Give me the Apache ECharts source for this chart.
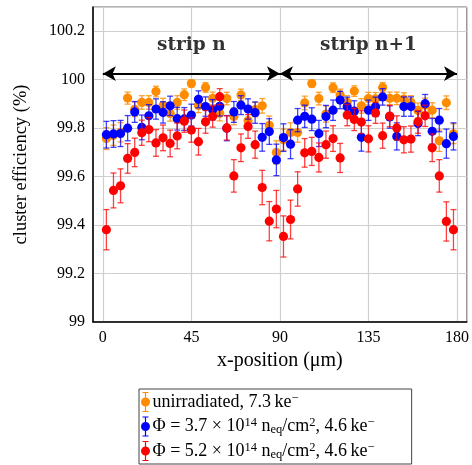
<!DOCTYPE html>
<html><head><meta charset="utf-8">
<script src="https://cdn.jsdelivr.net/npm/echarts@6/dist/echarts.min.js"></script>
<style>html,body{margin:0;padding:0;background:#fff}#c{width:472px;height:465px}</style>
</head><body><div id="c"></div>
<script>
// x-position bin centres (µm)
const xPos = [1.8,5.4,9,12.6,16.2,19.8,23.4,27,30.6,34.2,37.8,41.4,45,48.6,52.2,55.8,59.4,63,66.6,70.2,
  73.8,77.4,81,84.6,88.2,91.8,95.4,99,102.6,106.2,109.8,113.4,117,120.6,124.2,127.8,131.4,135,138.6,142.2,
  145.8,149.4,153,156.6,160.2,163.8,167.4,171,174.6,178.2];

// unirradiated, 7.3 ke-
const unirr = [99.757,99.771,99.783,99.924,99.878,99.906,99.906,99.951,99.893,99.861,
  99.906,99.938,99.984,99.894,99.968,99.923,99.862,99.922,99.848,99.937,
  99.831,99.877,99.892,99.812,99.700,99.752,99.782,99.782,99.904,99.984,
  99.922,99.858,99.967,99.937,99.906,99.953,99.892,99.922,99.921,99.968,
  99.923,99.923,99.920,99.906,99.873,99.895,99.874,99.748,99.905,99.777];
const unirrErr = [0.045,0.042,0.04,0.025,0.03,0.028,0.028,0.022,0.03,0.032,
  0.028,0.024,0.015,0.03,0.02,0.026,0.032,0.026,0.034,0.024,
  0.036,0.03,0.03,0.038,0.048,0.044,0.04,0.04,0.028,0.015,
  0.026,0.033,0.02,0.024,0.028,0.022,0.03,0.026,0.026,0.02,
  0.026,0.026,0.026,0.028,0.031,0.029,0.031,0.044,0.028,0.041];

// Phi = 3.7e14
const phi37 = [99.773,99.776,99.778,99.800,99.867,99.803,99.851,99.879,99.865,99.892,
  99.839,99.838,99.854,99.919,99.889,99.876,99.890,99.800,99.867,99.895,
  99.879,99.864,99.762,99.786,99.669,99.761,99.734,99.833,99.849,99.837,
  99.778,99.848,99.874,99.916,99.888,99.870,99.762,99.874,99.888,99.929,
  99.846,99.766,99.889,99.889,99.819,99.901,99.787,99.833,99.736,99.766];
const phi37Err = [0.055,0.055,0.054,0.052,0.043,0.051,0.046,0.042,0.044,0.04,
  0.047,0.047,0.045,0.035,0.04,0.042,0.04,0.052,0.043,0.039,
  0.042,0.044,0.057,0.053,0.065,0.057,0.06,0.048,0.046,0.047,
  0.054,0.046,0.042,0.036,0.04,0.043,0.057,0.042,0.04,0.034,
  0.046,0.056,0.04,0.04,0.05,0.038,0.053,0.048,0.06,0.056];

// Phi = 5.2e14
const phi52 = [99.381,99.543,99.562,99.675,99.700,99.781,99.794,99.739,99.760,99.737,
  99.768,99.829,99.792,99.744,99.826,99.848,99.930,99.801,99.603,99.719,
  99.807,99.732,99.555,99.416,99.466,99.353,99.423,99.549,99.698,99.704,
  99.679,99.732,99.757,99.677,99.854,99.836,99.825,99.756,99.863,99.769,
  99.850,99.801,99.752,99.755,99.826,99.851,99.719,99.603,99.415,99.381];
const phi52Err = [0.083,0.072,0.07,0.061,0.059,0.052,0.05,0.055,0.053,0.055,
  0.053,0.046,0.05,0.055,0.047,0.044,0.033,0.05,0.067,0.057,
  0.049,0.056,0.071,0.081,0.077,0.085,0.08,0.071,0.059,0.058,
  0.06,0.056,0.053,0.06,0.044,0.046,0.047,0.054,0.043,0.052,
  0.044,0.05,0.054,0.054,0.047,0.044,0.057,0.067,0.081,0.083];

const xTicks = [0,45,90,135,180];
const stripLabels = ['strip n','strip n+1'];
const stripX = [45,135];
const stripY = 100.143;
const arrowSpans = [[0,90],[90,180]];
const arrowY = 100.025;

const seriesNames = ['unirradiated','phi37','phi52'];
const legendText = {
  unirradiated: '{t|unirradiated, 7.3\u2009ke}{sup|\u2212}',
  phi37: '{t|\u03A6 = 3.7 \u00D7 10}{sup|14}{t| n}{sub|eq}{t|/cm}{sup|2}{t|, 4.6\u2009ke}{sup|\u2212}',
  phi52: '{t|\u03A6 = 5.2 \u00D7 10}{sup|14}{t| n}{sub|eq}{t|/cm}{sup|2}{t|, 4.6\u2009ke}{sup|\u2212}'
};

const FONT = 'Liberation Serif';

function build(vals, errs) { return xPos.map((x, i) => [x, vals[i], errs[i]]); }

function errRender(dot, bar) {
  return function (params, api) {
    const x = api.value(0), y = api.value(1), e = api.value(2);
    const c = api.coord([x, y]);
    const hi = api.coord([x, y + e]);
    const lo = api.coord([x, y - e]);
    const cw = 3;
    const ls = { stroke: bar, lineWidth: 1.3 };
    return { type: 'group', children: [
      { type: 'line', shape: { x1: c[0], y1: hi[1], x2: c[0], y2: lo[1] }, style: ls },
      { type: 'line', shape: { x1: c[0] - cw, y1: hi[1], x2: c[0] + cw, y2: hi[1] }, style: ls },
      { type: 'line', shape: { x1: c[0] - cw, y1: lo[1], x2: c[0] + cw, y2: lo[1] }, style: ls },
      { type: 'circle', shape: { cx: c[0], cy: c[1], r: 4.6 }, style: { fill: dot } }
    ]};
  };
}

const icon = 'path://M2,0H8V1H5.6V5.6H4.4V1H2Z M4.4,14.4H5.6V19H8V20H2V19H4.4Z M0.5,10A4.5,4.5 0 1,0 9.5,10A4.5,4.5 0 1,0 0.5,10Z';

const colors = ['#ff8c00', '#0000ff', '#ff0000'];
const barColors = ['rgba(255,140,0,0.8)', 'rgba(0,0,255,0.75)', 'rgba(255,0,0,0.75)'];
const datas = [build(unirr, unirrErr), build(phi37, phi37Err), build(phi52, phi52Err)];

const chart = echarts.init(document.getElementById('c'), null, { renderer: 'canvas' });

const series = seriesNames.map((n, k) => ({
  name: n, type: 'custom', renderItem: errRender(colors[k], barColors[k]),
  data: datas[k], encode: { x: 0, y: 1 }, itemStyle: { color: colors[k] },
  z: 3 + k, clip: true, silent: true
}));

series.push({
  name: 'annot', type: 'scatter', symbolSize: 0, z: 10, silent: true,
  data: stripLabels.map((s, i) => ({ value: [stripX[i], stripY], name: s })),
  label: { show: true, position: 'inside', formatter: p => p.name,
    fontFamily: 'DejaVu Serif', fontWeight: 'bold', fontSize: 18.5, color: '#000' },
  markLine: {
    silent: true, symbol: ['arrow', 'arrow'], symbolSize: [11, 13],
    label: { show: false },
    lineStyle: { color: '#000', width: 2, type: 'solid' },
    emphasis: { disabled: true },
    data: arrowSpans.map(s => [{ coord: [s[0], arrowY] }, { coord: [s[1], arrowY] }])
  }
});

chart.setOption({
  animation: false,
  backgroundColor: '#fff',
  grid: { left: 93, right: 4, top: 7, bottom: 143, show: true, borderColor: '#666', borderWidth: 1 },
  xAxis: {
    type: 'value', min: -5, max: 185,
    name: 'x-position (\u03BCm)', nameLocation: 'middle', nameGap: 25,
    nameTextStyle: { fontFamily: FONT, fontSize: 20, color: '#000' },
    axisLine: { show: true, onZero: false, lineStyle: { color: '#000', width: 1.5 } },
    axisTick: { show: false, customValues: xTicks },
    axisLabel: { customValues: xTicks, fontFamily: FONT, fontSize: 16, color: '#000', margin: 8 },
    splitLine: { show: true, lineStyle: { color: '#cfcfcf', width: 1.2 } }
  },
  yAxis: {
    type: 'value', min: 99, max: 100.3, interval: 0.2,
    name: 'cluster efficiency (%)', nameLocation: 'middle', nameGap: 62,
    nameTextStyle: { fontFamily: FONT, fontSize: 18.5, color: '#000' },
    axisLine: { show: true, onZero: false, lineStyle: { color: '#000', width: 1.5 } },
    axisTick: { show: false },
    axisLabel: { fontFamily: FONT, fontSize: 16, color: '#000', margin: 8, showMaxLabel: false,
      formatter: v => String(Math.round(v * 10) / 10) },
    splitLine: { show: true, lineStyle: { color: '#cfcfcf', width: 1.2 } }
  },
  legend: {
    data: seriesNames, orient: 'vertical', left: 139, top: 389,
    itemWidth: 10, itemHeight: 20, itemGap: 4.5, icon: icon,
    borderColor: '#444', borderWidth: 1, padding: [3, 37, 3, 2],
    selectedMode: false,
    formatter: n => legendText[n],
    textStyle: {
      fontFamily: FONT, fontSize: 18, color: '#000', padding: [0, 0, 0, -3],
      rich: {
        t: { fontFamily: FONT, fontSize: 18, color: '#000', lineHeight: 20, verticalAlign: 'middle' },
        sup: { fontFamily: FONT, fontSize: 12.5, color: '#000', lineHeight: 12, verticalAlign: 'top' },
        sub: { fontFamily: FONT, fontSize: 12.5, color: '#000', lineHeight: 10, verticalAlign: 'bottom' }
      }
    }
  },
  series: series
});
</script></body></html>
